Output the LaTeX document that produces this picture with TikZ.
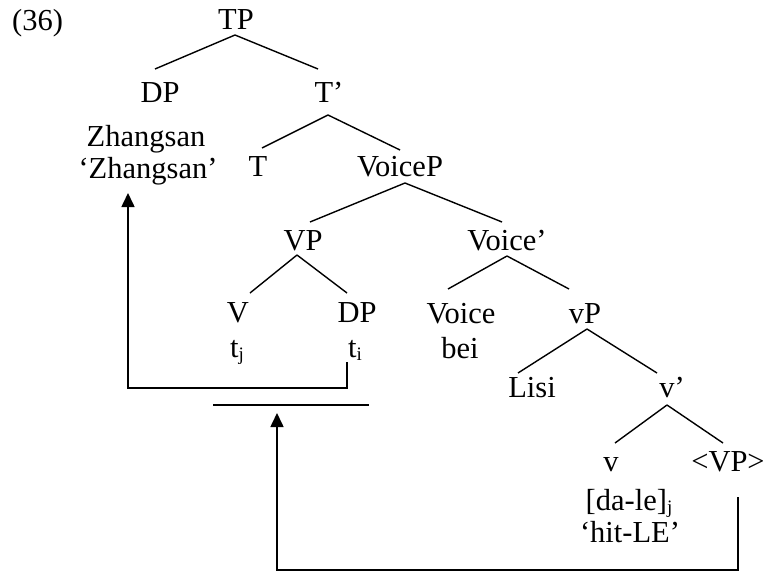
\documentclass[tikz,border=0pt]{standalone}
\usepackage{fontspec}
\setmainfont{Liberation Serif}
\usetikzlibrary{calc,arrows.meta}
\newcommand{\mysub}[1]{\raisebox{-3pt}{\fontsize{19}{20}\selectfont #1}}
\begin{document}
\begin{tikzpicture}[x=1pt,y=-1pt,
  lbl/.style={anchor=base,inner sep=0pt,font=\fontsize{30.5}{34}\selectfont},
  br/.style={line width=1.4pt},
  arr/.style={line width=1.6pt,-{Triangle[width=13pt,length=14pt]}}]
\useasboundingbox (0,0) rectangle (765,581);
% labels
\node[lbl,anchor=base west] (num) at (12,30) {(36)};
\node[lbl] (tp) at (236,29) {TP};
\node[lbl] (dp1) at (160,102) {DP};
\node[lbl] (tb) at (329,102) {T’};
\node[lbl] (zs) at (146,146) {Zhangsan};
\node[lbl] (zg) at (148,178) {‘Zhangsan’};
\node[lbl] (t) at (258,176) {T};
\node[lbl] (voicep) at (400,176) {VoiceP};
\node[lbl] (vp) at (303,250) {VP};
\node[lbl] (voiceb) at (507,250) {Voice’};
\node[lbl] (v) at (238,322) {V};
\node[lbl] (dp2) at (357,322) {DP};
\node[lbl] (tj) at (237,357) {t\mysub{j}};
\node[lbl] (ti) at (355,357) {t\mysub{i}};
\node[lbl] (voice) at (461,323) {Voice};
\node[lbl] (bei) at (460,358) {bei};
\node[lbl] (lvp) at (585,323) {vP};
\node[lbl] (lisi) at (532,397) {Lisi};
\node[lbl] (lvb) at (672,397) {v’};
\node[lbl] (lv) at (611,471) {v};
\node[lbl] (vpt) at (728,471) {<VP>};
\node[lbl] (dale) at (629,510) {[da-le]\mysub{j}};
\node[lbl] (hit) at (630,542) {‘hit-LE’};
% branches
\draw[br] ($(tp.base)+(-1,6)$) -- ($(dp1.base)+(-5,-33)$);
\draw[br] ($(tp.base)+(-1,6)$) -- ($(tb.base)+(-11,-33)$);
\draw[br] ($(tb.base)+(-1,13)$) -- ($(t.base)+(4,-28)$);
\draw[br] ($(tb.base)+(-1,13)$) -- ($(voicep.base)+(0,-26)$);
\draw[br] ($(voicep.base)+(5,7)$) -- ($(vp.base)+(7,-28)$);
\draw[br] ($(voicep.base)+(5,7)$) -- ($(voiceb.base)+(-5,-28)$);
\draw[br] ($(vp.base)+(-6,5)$) -- ($(v.base)+(12,-29)$);
\draw[br] ($(vp.base)+(-6,5)$) -- ($(dp2.base)+(-10,-29)$);
\draw[br] ($(voiceb.base)+(0,6)$) -- ($(voice.base)+(-13,-34)$);
\draw[br] ($(voiceb.base)+(0,6)$) -- ($(lvp.base)+(-16,-34)$);
\draw[br] ($(lvp.base)+(2,6)$) -- ($(lisi.base)+(-14,-24)$);
\draw[br] ($(lvp.base)+(2,6)$) -- ($(lvb.base)+(-15,-24)$);
\draw[br] ($(lvb.base)+(-5,8)$) -- ($(lv.base)+(4,-28)$);
\draw[br] ($(lvb.base)+(-5,8)$) -- ($(vpt.base)+(-5,-28)$);
% movement arrows
\coordinate (bar1) at (213,405);
\coordinate (bar2) at (369,405);
\draw[br] (bar1) -- (bar2);
\draw[arr] ($(ti.base)+(-8,5)$) -- ($(ti.base)+(-8,31)$) -| ($(zg.base)+(-20,15)$);
\draw[arr] ($(vpt.base)+(10,26)$) -- ($(vpt.base)+(10,99)$) -| ($(bar1)+(64,8)$);
\end{tikzpicture}
\end{document}
